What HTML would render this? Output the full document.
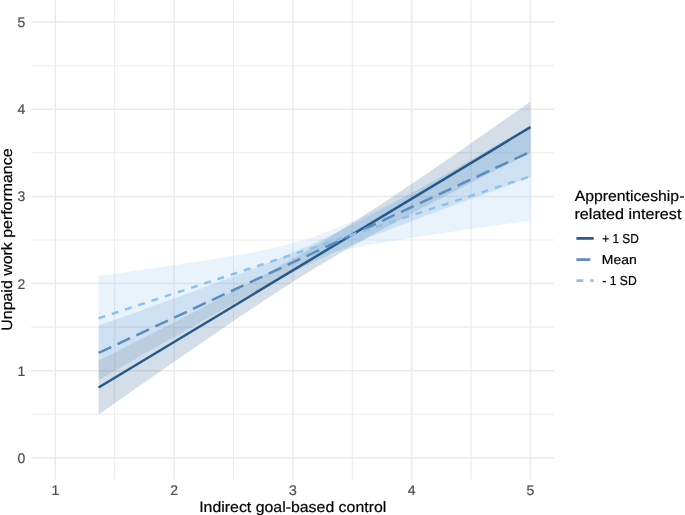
<!DOCTYPE html>
<html><head><meta charset="utf-8"><style>
html,body{margin:0;padding:0;background:#fff;}
body{width:685px;height:515px;overflow:hidden;position:relative;}
svg{position:absolute;left:0;top:0;will-change:transform;}
.mi{stroke:#ebebeb;stroke-width:1.07;}
.ma{stroke:#ebebeb;stroke-width:1.5;}
text{font-family:"Liberation Sans",sans-serif;text-rendering:geometricPrecision;}
.tk{font-size:14px;fill:#4d4d4d;stroke:#4d4d4d;stroke-width:0.2px;}
.ti{font-size:15px;fill:#000;stroke:#000;stroke-width:0.2px;}
.lg{font-size:13px;fill:#000;stroke:#000;stroke-width:0.2px;}
</style></head><body>
<svg width="685" height="515" viewBox="0 0 685 515">
<g>
<g><line x1="31.3" x2="554.2" y1="414.23" y2="414.23" class="mi"/><line x1="31.3" x2="554.2" y1="327.09" y2="327.09" class="mi"/><line x1="31.3" x2="554.2" y1="239.95" y2="239.95" class="mi"/><line x1="31.3" x2="554.2" y1="152.81" y2="152.81" class="mi"/><line x1="31.3" x2="554.2" y1="65.67" y2="65.67" class="mi"/><line y1="0.3" y2="479.6" x1="114.70" x2="114.70" class="mi"/><line y1="0.3" y2="479.6" x1="233.50" x2="233.50" class="mi"/><line y1="0.3" y2="479.6" x1="352.30" x2="352.30" class="mi"/><line y1="0.3" y2="479.6" x1="471.10" x2="471.10" class="mi"/><line x1="31.3" x2="554.2" y1="457.80" y2="457.80" class="ma"/><line x1="31.3" x2="554.2" y1="370.66" y2="370.66" class="ma"/><line x1="31.3" x2="554.2" y1="283.52" y2="283.52" class="ma"/><line x1="31.3" x2="554.2" y1="196.38" y2="196.38" class="ma"/><line x1="31.3" x2="554.2" y1="109.24" y2="109.24" class="ma"/><line x1="31.3" x2="554.2" y1="22.10" y2="22.10" class="ma"/><line y1="0.3" y2="479.6" x1="55.30" x2="55.30" class="ma"/><line y1="0.3" y2="479.6" x1="174.10" x2="174.10" class="ma"/><line y1="0.3" y2="479.6" x1="292.90" x2="292.90" class="ma"/><line y1="0.3" y2="479.6" x1="411.70" x2="411.70" class="ma"/><line y1="0.3" y2="479.6" x1="530.50" x2="530.50" class="ma"/></g>
<g stroke="none">
<polygon points="98.60,360.38 104.07,357.63 109.54,354.88 115.00,352.13 120.47,349.38 125.94,346.62 131.40,343.86 136.87,341.09 142.34,338.33 147.81,335.56 153.27,332.78 158.74,330.00 164.21,327.22 169.67,324.43 175.14,321.63 180.61,318.83 186.08,316.03 191.54,313.21 197.01,310.39 202.48,307.56 207.94,304.72 213.41,301.88 218.88,299.02 224.34,296.15 229.81,293.27 235.28,290.37 240.75,287.47 246.21,284.54 251.68,281.60 257.15,278.64 262.61,275.67 268.08,272.67 273.55,269.65 279.02,266.60 284.48,263.53 289.95,260.44 295.42,257.31 300.88,254.16 306.35,250.97 311.82,247.75 317.28,244.50 322.75,241.22 328.22,237.91 333.69,234.56 339.15,231.18 344.62,227.77 350.09,224.33 355.55,220.86 361.02,217.36 366.49,213.84 371.96,210.29 377.42,206.71 382.89,203.12 388.36,199.50 393.82,195.87 399.29,192.21 404.76,188.54 410.22,184.86 415.69,181.16 421.16,177.44 426.63,173.72 432.09,169.99 437.56,166.24 443.03,162.48 448.49,158.72 453.96,154.95 459.43,151.17 464.90,147.39 470.36,143.59 475.83,139.80 481.30,135.99 486.76,132.18 492.23,128.37 497.70,124.55 503.16,120.73 508.63,116.91 514.10,113.08 519.57,109.25 525.03,105.41 530.50,101.58 530.50,152.63 525.03,155.39 519.57,158.14 514.10,160.90 508.63,163.67 503.16,166.43 497.70,169.20 492.23,171.98 486.76,174.76 481.30,177.54 475.83,180.33 470.36,183.12 464.90,185.92 459.43,188.73 453.96,191.54 448.49,194.36 443.03,197.19 437.56,200.03 432.09,202.87 426.63,205.73 421.16,208.60 415.69,211.48 410.22,214.37 404.76,217.28 399.29,220.20 393.82,223.14 388.36,226.09 382.89,229.07 377.42,232.06 371.96,235.08 366.49,238.12 361.02,241.19 355.55,244.28 350.09,247.40 344.62,250.55 339.15,253.74 333.69,256.95 328.22,260.19 322.75,263.47 317.28,266.78 311.82,270.12 306.35,273.50 300.88,276.91 295.42,280.34 289.95,283.81 284.48,287.30 279.02,290.83 273.55,294.37 268.08,297.94 262.61,301.54 257.15,305.15 251.68,308.79 246.21,312.44 240.75,316.10 235.28,319.79 229.81,323.49 224.34,327.20 218.88,330.92 213.41,334.65 207.94,338.40 202.48,342.15 197.01,345.91 191.54,349.68 186.08,353.46 180.61,357.25 175.14,361.04 169.67,364.84 164.21,368.64 158.74,372.45 153.27,376.26 147.81,380.07 142.34,383.89 136.87,387.72 131.40,391.55 125.94,395.38 120.47,399.21 115.00,403.05 109.54,406.89 104.07,410.73 98.60,414.58" fill="#24598b" fill-opacity="0.2"/>
<polygon points="98.60,325.66 104.07,323.71 109.54,321.75 115.00,319.79 120.47,317.83 125.94,315.86 131.40,313.89 136.87,311.93 142.34,309.95 147.81,307.98 153.27,306.00 158.74,304.02 164.21,302.03 169.67,300.04 175.14,298.05 180.61,296.05 186.08,294.04 191.54,292.03 197.01,290.02 202.48,288.00 207.94,285.96 213.41,283.92 218.88,281.88 224.34,279.82 229.81,277.75 235.28,275.67 240.75,273.57 246.21,271.46 251.68,269.33 257.15,267.18 262.61,265.02 268.08,262.83 273.55,260.61 279.02,258.37 284.48,256.10 289.95,253.79 295.42,251.45 300.88,249.08 306.35,246.66 311.82,244.21 317.28,241.71 322.75,239.17 328.22,236.59 333.69,233.97 339.15,231.30 344.62,228.60 350.09,225.86 355.55,223.08 361.02,220.27 366.49,217.43 371.96,214.56 377.42,211.66 382.89,208.74 388.36,205.80 393.82,202.84 399.29,199.87 404.76,196.87 410.22,193.87 415.69,190.85 421.16,187.82 426.63,184.77 432.09,181.72 437.56,178.66 443.03,175.59 448.49,172.52 453.96,169.44 459.43,166.35 464.90,163.26 470.36,160.16 475.83,157.06 481.30,153.95 486.76,150.84 492.23,147.72 497.70,144.61 503.16,141.49 508.63,138.36 514.10,135.24 519.57,132.11 525.03,128.98 530.50,125.84 530.50,177.51 525.03,179.47 519.57,181.43 514.10,183.40 508.63,185.37 503.16,187.34 497.70,189.31 492.23,191.29 486.76,193.27 481.30,195.25 475.83,197.24 470.36,199.23 464.90,201.22 459.43,203.22 453.96,205.23 448.49,207.24 443.03,209.26 437.56,211.29 432.09,213.32 426.63,215.36 421.16,217.42 415.69,219.48 410.22,221.55 404.76,223.64 399.29,225.74 393.82,227.86 388.36,229.99 382.89,232.15 377.42,234.32 371.96,236.52 366.49,238.74 361.02,241.00 355.55,243.28 350.09,245.60 344.62,247.95 339.15,250.34 333.69,252.77 328.22,255.24 322.75,257.75 317.28,260.30 311.82,262.90 306.35,265.54 300.88,268.22 295.42,270.93 289.95,273.69 284.48,276.48 279.02,279.30 273.55,282.15 268.08,285.03 262.61,287.94 257.15,290.86 251.68,293.81 246.21,296.78 240.75,299.76 235.28,302.76 229.81,305.77 224.34,308.79 218.88,311.83 213.41,314.87 207.94,317.93 202.48,320.99 197.01,324.06 191.54,327.14 186.08,330.22 180.61,333.31 175.14,336.41 169.67,339.50 164.21,342.61 158.74,345.72 153.27,348.83 147.81,351.94 142.34,355.06 136.87,358.18 131.40,361.31 125.94,364.44 120.47,367.57 115.00,370.70 109.54,373.83 104.07,376.97 98.60,380.10" fill="#5a8dbe" fill-opacity="0.2"/>
<polygon points="98.60,276.02 104.07,275.25 109.54,274.47 115.00,273.70 120.47,272.92 125.94,272.14 131.40,271.35 136.87,270.57 142.34,269.78 147.81,268.98 153.27,268.19 158.74,267.39 164.21,266.58 169.67,265.77 175.14,264.96 180.61,264.14 186.08,263.31 191.54,262.48 197.01,261.64 202.48,260.79 207.94,259.93 213.41,259.06 218.88,258.17 224.34,257.27 229.81,256.36 235.28,255.42 240.75,254.46 246.21,253.48 251.68,252.47 257.15,251.42 262.61,250.33 268.08,249.20 273.55,248.01 279.02,246.76 284.48,245.44 289.95,244.04 295.42,242.55 300.88,240.97 306.35,239.28 311.82,237.49 317.28,235.60 322.75,233.60 328.22,231.51 333.69,229.33 339.15,227.07 344.62,224.73 350.09,222.33 355.55,219.88 361.02,217.38 366.49,214.84 371.96,212.26 377.42,209.65 382.89,207.02 388.36,204.36 393.82,201.69 399.29,198.99 404.76,196.28 410.22,193.56 415.69,190.83 421.16,188.08 426.63,185.33 432.09,182.57 437.56,179.80 443.03,177.03 448.49,174.25 453.96,171.46 459.43,168.67 464.90,165.87 470.36,163.07 475.83,160.27 481.30,157.47 486.76,154.66 492.23,151.85 497.70,149.03 503.16,146.21 508.63,143.40 514.10,140.58 519.57,137.75 525.03,134.93 530.50,132.10 530.50,220.40 525.03,221.17 519.57,221.94 514.10,222.71 508.63,223.49 503.16,224.27 497.70,225.05 492.23,225.83 486.76,226.61 481.30,227.40 475.83,228.19 470.36,228.98 464.90,229.78 459.43,230.58 453.96,231.38 448.49,232.19 443.03,233.01 437.56,233.83 432.09,234.66 426.63,235.49 421.16,236.34 415.69,237.19 410.22,238.05 404.76,238.92 399.29,239.81 393.82,240.71 388.36,241.63 382.89,242.57 377.42,243.53 371.96,244.52 366.49,245.54 361.02,246.59 355.55,247.69 350.09,248.83 344.62,250.03 339.15,251.29 333.69,252.62 328.22,254.04 322.75,255.54 317.28,257.14 311.82,258.84 306.35,260.65 300.88,262.56 295.42,264.57 289.95,266.68 284.48,268.88 279.02,271.15 273.55,273.50 268.08,275.91 262.61,278.37 257.15,280.88 251.68,283.43 246.21,286.01 240.75,288.62 235.28,291.26 229.81,293.92 224.34,296.60 218.88,299.30 213.41,302.01 207.94,304.73 202.48,307.47 197.01,310.21 191.54,312.97 186.08,315.73 180.61,318.50 175.14,321.28 169.67,324.06 164.21,326.84 158.74,329.64 153.27,332.43 147.81,335.23 142.34,338.03 136.87,340.84 131.40,343.65 125.94,346.46 120.47,349.28 115.00,352.09 109.54,354.91 104.07,357.73 98.60,360.56" fill="#8cc2ee" fill-opacity="0.2"/>
</g>
<g fill="none" stroke-width="2.5" stroke-linecap="butt">
<path d="M98.60,387.48L530.50,127.10" stroke="#24598b"/>
<path d="M98.60,352.88L530.50,151.68" stroke="#5a8dbe" stroke-dasharray="13.9 6.95"/>
<path d="M98.60,318.29L530.50,176.25" stroke="#8cc2ee" stroke-dasharray="6.95 6.95"/>
</g>
</g>
<text x="25.3" y="463" class="tk" text-anchor="end">0</text><text x="25.3" y="376" class="tk" text-anchor="end">1</text><text x="25.3" y="289" class="tk" text-anchor="end">2</text><text x="25.3" y="201" class="tk" text-anchor="end">3</text><text x="25.3" y="114" class="tk" text-anchor="end">4</text><text x="25.3" y="27" class="tk" text-anchor="end">5</text><text x="55.30" y="495.0" class="tk" text-anchor="middle">1</text><text x="174.10" y="495.0" class="tk" text-anchor="middle">2</text><text x="292.90" y="495.0" class="tk" text-anchor="middle">3</text><text x="411.70" y="495.0" class="tk" text-anchor="middle">4</text><text x="530.50" y="495.0" class="tk" text-anchor="middle">5</text>
<text x="199.18" y="511.5" class="ti" textLength="187.11" lengthAdjust="spacingAndGlyphs">Indirect goal-based control</text>
<text transform="translate(12,330.71) rotate(-90)" class="ti" textLength="182.25" lengthAdjust="spacingAndGlyphs">Unpaid work performance</text>
<text x="574.81" y="200.9" class="ti" textLength="104.25" lengthAdjust="spacingAndGlyphs">Apprenticeship</text><text x="679.4" y="200.9" class="ti">-</text>
<text x="574.42" y="219.2" class="ti" textLength="107.07" lengthAdjust="spacingAndGlyphs">related interest</text>
<g stroke-width="2.7">
<line x1="576.4" x2="593.7" y1="238.4" y2="238.4" stroke="#24598b"/>
<line x1="576.4" x2="593.7" y1="259.6" y2="259.6" stroke="#5a8dbe" stroke-dasharray="13.9 6.95"/>
<line x1="576.4" x2="593.7" y1="280.7" y2="280.7" stroke="#8cc2ee" stroke-dasharray="6.95 6.95"/>
</g>
<text x="602.17" y="243.0" class="lg" textLength="36.76" lengthAdjust="spacingAndGlyphs">+ 1 SD</text>
<text x="601.87" y="264.4" class="lg" textLength="34.92" lengthAdjust="spacingAndGlyphs">Mean</text>
<text x="602.26" y="285.3" class="lg" textLength="34.42" lengthAdjust="spacingAndGlyphs">- 1 SD</text>
</svg>
</body></html>
